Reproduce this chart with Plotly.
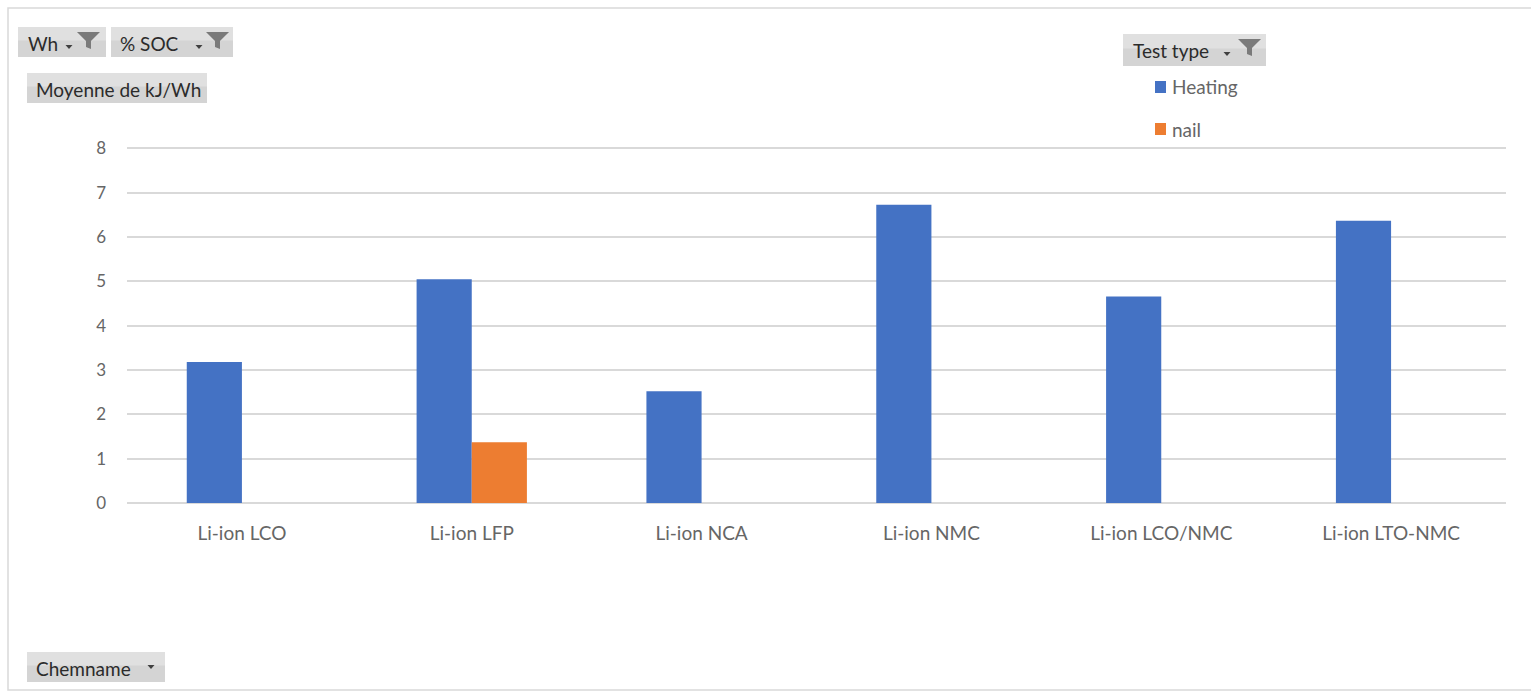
import plotly.graph_objects as go

# Average kJ/Wh by chemistry and test type
chemnames = ["Li-ion LCO", "Li-ion LFP", "Li-ion NCA", "Li-ion NMC", "Li-ion LCO/NMC", "Li-ion LTO-NMC"]
heating = [3.18, 5.05, 2.52, 6.73, 4.66, 6.37]
nail = [None, 1.37, None, None, None, None]
y_ticks = [0, 1, 2, 3, 4, 5, 6, 7, 8]

W, H = 1531, 693
Y_MAX = 8.1
L, R, B = 127, 25, 190
T = round(148 - (Y_MAX - 8) * 355 / 8)
PW, PH = W - L - R, H - T - B

BLUE = "#4472C4"
ORANGE = "#ED7D31"
TXT = "#666666"
FONT = "Lato"


def px(x):
    return (x - L) / PW


def py(y):
    return (H - B - y) / PH


fig = go.Figure()
fig.add_trace(go.Bar(name="Heating", x=chemnames, y=heating, marker_color=BLUE,
                     marker_line_width=0))
fig.add_trace(go.Bar(name="nail", x=chemnames, y=nail, marker_color=ORANGE,
                     marker_line_width=0))

shapes = []
annotations = []


def path_px(pts):
    return "M " + " L ".join(f"{px(x):.5f},{py(y):.5f}" for x, y in pts) + " Z"


def button(x0, y0, x1, y1, label, tx, arrow=None, funnel=None, fs=19):
    shapes.append(dict(type="rect", xref="paper", yref="paper",
                       x0=px(x0), x1=px(x1), y0=py(y1), y1=py(y0),
                       fillcolor="#d4d4d4", line=dict(width=0), layer="below"))
    shapes.append(dict(type="rect", xref="paper", yref="paper",
                       x0=px(x0), x1=px(x1), y0=py(y0 + (y1 - y0) * 0.45), y1=py(y0),
                       fillcolor="#e0e0e0", line=dict(width=0), layer="below"))
    annotations.append(dict(text=label, xref="paper", yref="paper",
                            x=px(tx), y=py((y0 + y1) / 2 + 1), xanchor="left", yanchor="middle",
                            showarrow=False, font=dict(family=FONT, size=fs, color="#2b2b2b")))
    if arrow is not None:
        ax, ay = arrow
        shapes.append(dict(type="path", xref="paper", yref="paper",
                           path=path_px([(ax - 3.5, ay), (ax + 3.5, ay), (ax, ay + 4)]),
                           fillcolor="#404040", line=dict(width=0)))
    if funnel is not None:
        fx, fy = funnel
        shapes.append(dict(type="path", xref="paper", yref="paper",
                           path=path_px([(fx, fy), (fx + 23, fy), (fx + 14, fy + 9),
                                         (fx + 14, fy + 17), (fx + 9, fy + 15), (fx + 9, fy + 9)]),
                           fillcolor="#7a7a7a", line=dict(width=0)))


# outer frame
shapes.append(dict(type="rect", xref="paper", yref="paper",
                   x0=px(8), x1=px(1540), y0=py(690), y1=py(8),
                   line=dict(color="#d9d9d9", width=1.5), fillcolor="rgba(0,0,0,0)", layer="below"))

button(18, 27, 106, 57, "Wh", 26, arrow=(69, 45), funnel=(77, 32))
button(111, 27, 233, 57, "% SOC", 118, arrow=(199, 45), funnel=(206, 32))
button(27, 73, 207, 103, "Moyenne de kJ/Wh", 34)
button(1123, 34, 1266, 66, "Test type", 1131, arrow=(1227, 52), funnel=(1238, 39))
button(27, 652, 165, 682, "Chemname", 34, arrow=(151, 665))

# legend entries
for label, color, yc in [("Heating", BLUE, 87), ("nail", ORANGE, 129)]:
    shapes.append(dict(type="rect", xref="paper", yref="paper",
                       x0=px(1155), x1=px(1166), y0=py(yc + 6), y1=py(yc - 6),
                       fillcolor=color, line=dict(width=0)))
    annotations.append(dict(text=label, xref="paper", yref="paper",
                            x=px(1170), y=py(yc), xanchor="left", yanchor="middle",
                            showarrow=False, font=dict(family=FONT, size=19, color=TXT)))

fig.update_layout(
    width=W, height=H,
    margin=dict(l=L, r=R, t=T, b=B, pad=0),
    paper_bgcolor="white", plot_bgcolor="white",
    barmode="group", bargap=0.52, bargroupgap=0,
    showlegend=False,
    font=dict(family=FONT, color=TXT),
    shapes=shapes, annotations=annotations,
)
fig.update_xaxes(showgrid=False, showline=False, ticks="", zeroline=False,
                 tickfont=dict(family=FONT, size=19, color=TXT), ticklabelstandoff=17)
fig.update_yaxes(range=[0, Y_MAX], tickvals=y_ticks, showgrid=True, gridcolor="#d9d9d9",
                 gridwidth=1.5, zeroline=True, zerolinecolor="#d9d9d9", zerolinewidth=1.5,
                 showline=False, ticks="", tickfont=dict(family=FONT, size=17, color=TXT),
                 ticklabelstandoff=20)

fig.write_html("out.html")
